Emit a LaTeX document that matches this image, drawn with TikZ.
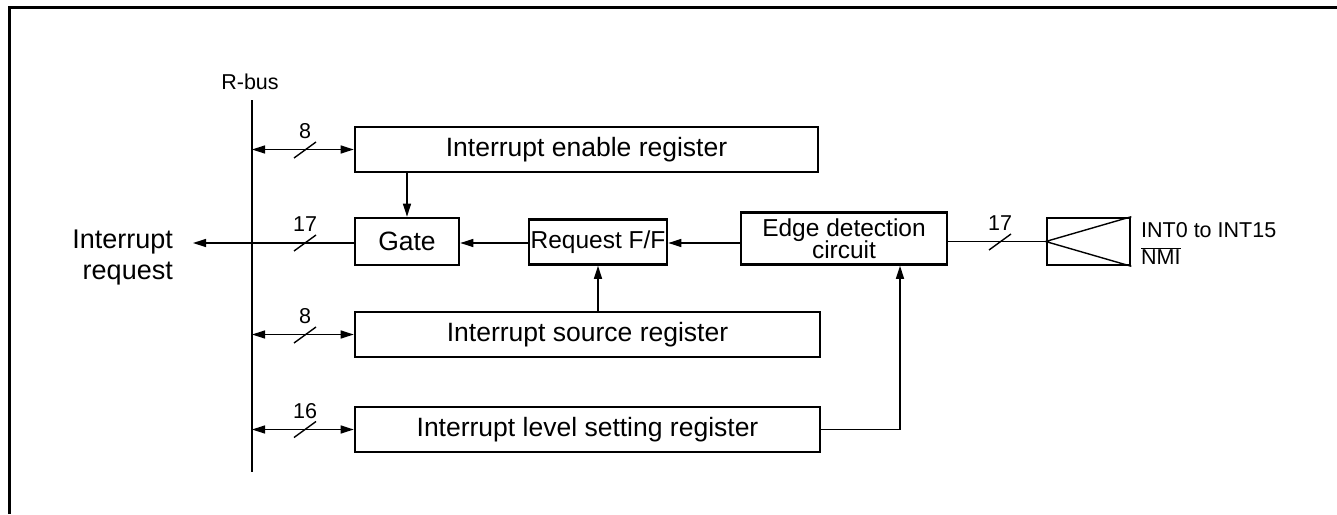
\documentclass[tikz,border=0pt]{standalone}
\usepackage{fontspec}
\setmainfont{Liberation Sans}
\usetikzlibrary{arrows.meta}
\begin{document}
\begin{tikzpicture}[x=1pt,y=-1pt,
  blk/.style={draw, line width=2.6pt, inner sep=0pt, align=center},
  big/.style={font=\fontsize{26.5}{29}\selectfont},
  mid/.style={font=\fontsize{24.5}{25}\selectfont},
  wire/.style={line width=1.4pt},
  arr/.style={wire,-{Triangle[length=13pt,width=8pt]}},
  darr/.style={wire,{Triangle[length=13pt,width=8pt]}-{Triangle[length=13pt,width=8pt]}},
  lbl/.style={font=\fontsize{21.5}{23}\selectfont, inner sep=0pt}]
\useasboundingbox (0,0) rectangle (1337,514);
% outer frame
\draw[line width=3pt] (9,514) -- (9,7) -- (1337,7);
% bus
\coordinate (bt) at (252,100);
\coordinate (bb) at (252,472);
\draw[wire] (bt) -- (bb);
\node[lbl, anchor=south] (rbus) at (250,90) {R-bus};
% blocks
\node[blk, big, minimum width=463pt, minimum height=45pt] (enable) at (586.5,149.5) {Interrupt enable register};
\node[blk, big, minimum width=104pt, minimum height=47pt] (gate) at (407,241.5) {Gate};
\node[blk, mid, minimum width=138pt, minimum height=45pt] (req) at (598,242) {Request F/F};
\node[blk, mid, minimum width=206pt, minimum height=52pt] (edge) at (844,238.5) {Edge detection\\[-3pt]circuit};
\node[blk, minimum width=83pt, minimum height=47pt] (inp) at (1088.5,241.5) {};
\node[blk, big, minimum width=465pt, minimum height=45pt] (source) at (587.5,334.5) {Interrupt source register};
\node[blk, big, minimum width=465pt, minimum height=45pt] (level) at (587.5,429.5) {Interrupt level setting register};
% input symbol
\draw[wire] (inp.north east) -- (inp.west) -- (inp.south east);
\node[lbl, anchor=west] (intlbl) at (1141,230) {INT0 to INT15};
\node[lbl, anchor=west] (nmilbl) at (1141,256) {$\overline{\hbox{NMI}}$};
% bus connections
\draw[darr] (bt |- enable.west) -- (enable.west);
\draw[darr] (bt |- source.west) -- (source.west);
\draw[darr] (bt |- level.west) -- (level.west);
% interrupt request
\node[anchor=east, align=right, font=\fontsize{27}{31}\selectfont, inner sep=0pt] (irq) at (173,258) {Interrupt\\request};
\coordinate (irqtip) at (193,243);
\draw[arr] (gate.west |- irqtip) -- (irqtip);
% internal connections
\draw[arr] (enable.south -| gate.north) -- (gate.north);
\draw[arr] (req.west |- irqtip) -- (gate.east |- irqtip);
\draw[arr] (edge.west |- irqtip) -- (req.east |- irqtip);
\draw[arr] (source.north -| req.south) -- (req.south);
\coordinate (ex) at (900,0);
\draw[arr] (level.east) -| (edge.south -| ex);
\draw[wire] (edge.east |- inp.west) -- (inp.west);
% bus width marks
\foreach \x/\y/\t in {305/150/8, 305/243/17, 305/335/8, 305/429.5/16, 1000/242/17}{
  \draw[wire] (\x-11,\y+8) -- (\x+11,\y-8);
  \node[lbl, anchor=south] at (\x,\y-11) {\t};
}
\end{tikzpicture}
\end{document}
